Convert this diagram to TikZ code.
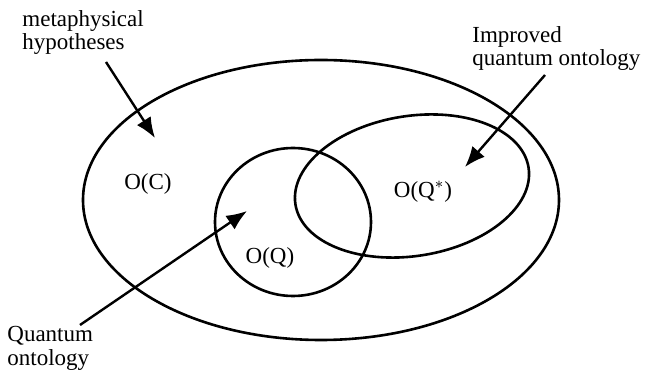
\documentclass[tikz,border=0pt]{standalone}
\usepackage{fontspec}
\setmainfont{Liberation Serif}
\usepackage{tikz}
\usetikzlibrary{arrows.meta, positioning}
\tikzstyle{label} = [inner sep=0pt, align=left, font=\fontsize{11.5}{11.8}\selectfont]
\tikzstyle{set} = [line width=1.3pt]
\tikzstyle{pointer} = [line width=1.2pt, -{Latex[length=3.6mm,width=2.9mm]}]

\begin{document}
\begin{tikzpicture}[x=0.5pt, y=0.5pt]
\useasboundingbox (0,0) rectangle (645,370);

% the three ontologies
\draw[set] (321,170) ellipse [x radius=238, y radius=140];
\draw[set] (293,148) ellipse [x radius=78, y radius=74];
\draw[set, rotate around={9:(412,184)}] (412,184) ellipse [x radius=118, y radius=70];

\node[label] (oc) at (148,186) {O(C)};
\node[label] (oq) at (270,112) {O(Q)};
\node[label] (oqstar) at (423,178) {O(Q$^{*}$)};

% labels
\node[label, anchor=north west] (metaphys) at (22,360) {metaphysical\\hypotheses};
\node[label, anchor=north west] (improved) at (472,344) {Improved\\quantum ontology};
\node[label, anchor=north west] (quantum) at (7,44) {Quantum\\ontology};

\coordinate (metatail) at (106,308);
\coordinate (metatip) at (155,232);
\coordinate (imptail) at (545,295);
\coordinate (imptip) at (465,203);
\coordinate (quanttail) at (80,45);
\coordinate (quanttip) at (247,159);

\draw[pointer] (metatail) -- (metatip);
\draw[pointer] (imptail) -- (imptip);
\draw[pointer] (quanttail) -- (quanttip);
\end{tikzpicture}
\end{document}
